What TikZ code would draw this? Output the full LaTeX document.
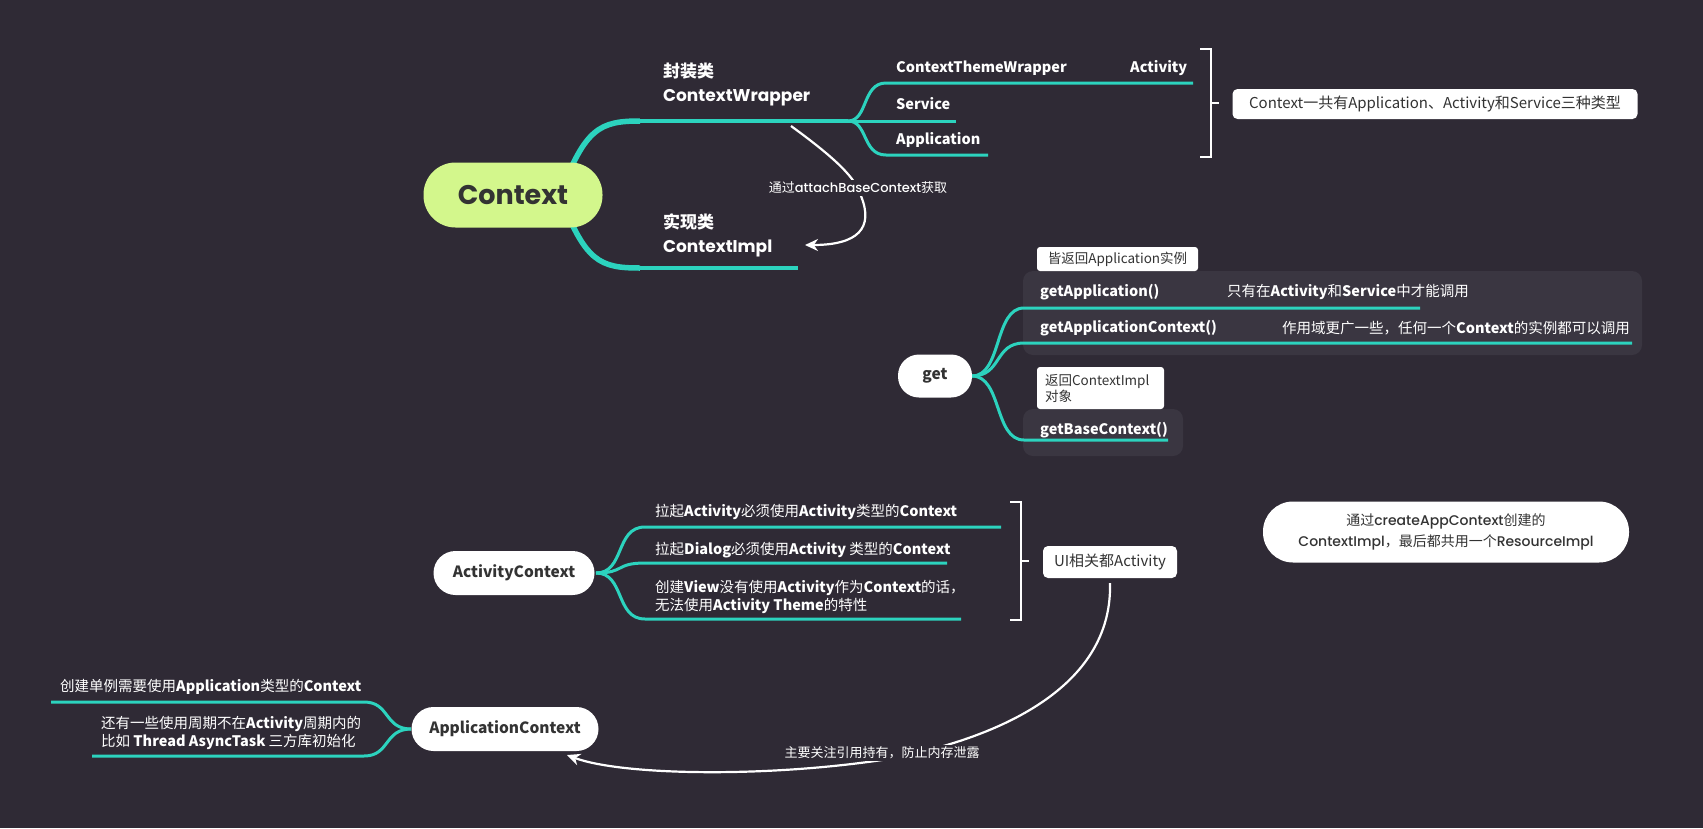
\documentclass[tikz,border=0pt]{standalone}
\usepackage{fontspec}
\setmainfont{Noto Sans CJK SC}
\newfontfamily\pop{Poppins}
\newfontfamily\popm{Poppins Medium}
\newfontfamily\cjk{Noto Sans CJK SC}
\usetikzlibrary{arrows.meta}
\definecolor{bgc}{HTML}{2F2A35}
\definecolor{teal}{HTML}{2CD3BE}
\definecolor{lgreen}{HTML}{D3F78C}
\definecolor{gbox}{HTML}{3A3641}
\definecolor{dtext}{HTML}{333333}
\newcommand\latb[1]{\textbf{#1}}
\tikzset{
 br/.style={draw=teal, line width=3pt},
 brthick/.style={draw=teal, line width=5.5pt},
 wtxt/.style={text=white, inner sep=0pt, anchor=west, align=left, font=\fontsize{14.5}{18.5}\selectfont},
 wbox/.style={fill=white, text=dtext, rounded corners=5pt, inner sep=0pt, font=\fontsize{14.5}{18}\selectfont},
 pill/.style={fill=white, text=dtext, inner sep=0pt, font=\bfseries\fontsize{15.5}{18}\selectfont},
 arr/.style={draw=white, line width=2.2pt, -{Stealth[length=13pt,width=12pt]}},
 brk/.style={draw=white, line width=1.8pt},
 lab/.style={fill=bgc, text=white, inner sep=2pt},
}
\begin{document}
\begin{tikzpicture}[x=1pt,y=-1pt]
\fill[bgc] (0,0) rectangle (1703,828);
\useasboundingbox (0,0) rectangle (1703,828);

% gray group boxes
\fill[gbox, rounded corners=10pt] (1023,271) rectangle (1642,355);
\fill[gbox, rounded corners=10pt] (1023,409) rectangle (1183,456);
% tabs
\node[wbox, rounded corners=3pt, minimum width=161pt, minimum height=24pt, font=\fontsize{13.5}{16}\selectfont] (tab1) at (1117.5,259) {皆返回Application实例};
\node[wbox, rounded corners=3pt, minimum width=127pt, minimum height=42pt, align=left, text width=111pt, font=\fontsize{13.5}{16}\selectfont] (tab2) at (1100.5,388) {返回ContextImpl\\对象};

% coordinates
\coordinate (c0) at (560,195);
\coordinate (bw) at (848,121);
\coordinate (g0) at (972,376);
\coordinate (a0) at (596,573);
\coordinate (p0) at (411,729);

% main branches
\draw[brthick] (c0) .. controls (585,128) and (600,121) .. (640,121);
\draw[br, line width=3.5pt] (640,121) -- (bw);
\draw[brthick] (c0) .. controls (585,262) and (600,268) .. (640,268);
\draw[br, line width=3.5pt] (640,268) -- (798,268);
% wrapper sub-branches
\draw[br] (bw) .. controls (868,121) and (862,83) .. (886,83) -- (1193,83);
\draw[br] (bw) -- (956,121);
\draw[br] (bw) .. controls (868,121) and (862,155) .. (886,155) -- (988,155);
% get branches
\draw[br] (g0) .. controls (1002,376) and (994,308) .. (1024,308) -- (1420,308);
\draw[br] (g0) .. controls (1002,376) and (994,343) .. (1024,343) -- (1632,343);
\draw[br] (g0) .. controls (1002,376) and (994,440) .. (1024,440) -- (1168,440);
% activity branches
\draw[br] (a0) .. controls (625,573) and (615,527) .. (645,527) -- (1001,527);
\draw[br] (a0) .. controls (625,573) and (615,563) .. (645,563) -- (947,563);
\draw[br] (a0) .. controls (625,573) and (615,619) .. (645,619) -- (961,619);
% application branches
\draw[br] (p0) .. controls (384,729) and (390,702) .. (364,702) -- (51,702);
\draw[br] (p0) .. controls (384,729) and (390,756) .. (364,756) -- (92,756);

% central node
\node[fill=lgreen, rounded corners=32pt, minimum width=179pt, minimum height=65pt, text=dtext, inner sep=0pt] (ctx) at (513,195) {\pop\bfseries\fontsize{27}{30}\selectfont Context};

% wrapper texts
\node[wtxt, font=\bfseries\fontsize{17}{24}\selectfont] (wrap) at (663,84) {封装类\\{\pop ContextWrapper}};
\node[wtxt, font=\bfseries\fontsize{17}{24}\selectfont] (impl) at (663,235) {实现类\\{\pop ContextImpl}};
\node[wtxt, font=\bfseries\fontsize{14.5}{18}\selectfont] (ctw) at (896,68) {ContextThemeWrapper};
\node[wtxt, font=\bfseries\fontsize{14.5}{18}\selectfont] (act) at (1130,68) {Activity};
\node[wtxt, font=\bfseries\fontsize{14.5}{18}\selectfont] (svc) at (896,104) {Service};
\node[wtxt, font=\bfseries\fontsize{14.5}{18}\selectfont] (app) at (896,140) {Application};

% bracket 1 + note
\draw[brk] (1200,49) -- (1211,49) -- (1211,157) -- (1200,157);
\coordinate (bk1) at (1211,103);
\draw[brk] (bk1) -- ++(8,0);
\node[wbox, minimum width=405pt, minimum height=30pt, font=\fontsize{15}{18}\selectfont] (note1) at (1435,104) {Context一共有Application、Activity和Service三种类型};

% attach arrow
\coordinate (a1s) at (791,126);
\coordinate (a1e) at (805,245);
\draw[arr] (a1s) .. controls (835,158) and (856,178) .. (861,196) .. controls (874,228) and (858,245) .. (a1e);
\node[lab, font=\fontsize{13}{15}\selectfont] (lab1) at (858,188) {通过{\popm attachBaseContext}获取};

% get
\node[pill, rounded corners=21pt, minimum width=74pt, minimum height=43pt] (get) at (935,376) {get};
\node[wtxt] (ga) at (1040,292) {\latb{getApplication()}};
\node[wtxt] (gad) at (1227,292) {只有在\latb{Activity}和\latb{Service}中才能调用};
\node[wtxt] (gac) at (1040,328) {\latb{getApplicationContext()}};
\node[wtxt] (gacd) at (1282,328) {作用域更广一些，任何一个\latb{Context}的实例都可以调用};
\node[wtxt] (gbc) at (1040,430) {\latb{getBaseContext()}};

% activity context
\node[pill, rounded corners=22pt, minimum width=161pt, minimum height=44pt] (actx) at (514,573) {ActivityContext};
\node[wtxt] (t1) at (655,512) {拉起\latb{Activity}必须使用\latb{Activity}类型的\latb{Context}};
\node[wtxt] (t2) at (655,550) {拉起\latb{Dialog}必须使用\latb{Activity} 类型的\latb{Context}};
\node[wtxt] (t3) at (655,597) {创建\latb{View}没有使用\latb{Activity}作为\latb{Context}的话，\\无法使用\latb{Activity Theme}的特性};
\draw[brk] (1010,502) -- (1021,502) -- (1021,620) -- (1010,620);
\coordinate (bk2) at (1021,561);
\draw[brk] (bk2) -- ++(8,0);
\node[wbox, minimum width=134pt, minimum height=32pt, font=\fontsize{15}{18}\selectfont] (ui) at (1110,562) {UI相关都Activity};

% note 2
\node[wbox, rounded corners=30pt, minimum width=366pt, minimum height=61pt, align=center, font=\popm\fontsize{14}{21}\selectfont] (note2) at (1446,532) {{\cjk 通过}createAppContext{\cjk 创建的}\\ContextImpl{\cjk ，最后都共用一个}ResourceImpl};

% application context
\node[pill, rounded corners=22pt, minimum width=187pt, minimum height=44pt] (apctx) at (505,729) {ApplicationContext};
\node[wtxt] (t4) at (60,687) {创建单例需要使用\latb{Application}类型的\latb{Context}};
\node[wtxt] (t5) at (101,733) {还有一些使用周期不在\latb{Activity}周期内的\\比如 \latb{Thread AsyncTask} 三方库初始化};

% ui -> application arrow
\coordinate (a2e) at (567,755);
\draw[arr] (ui.south) ++(0,5) .. controls (1113,700) and (970,745) .. (882,760) .. controls (760,778) and (620,775) .. (a2e);
\node[lab, font=\fontsize{13}{15}\selectfont] (lab2) at (882,753) {主要关注引用持有，防止内存泄露};
\end{tikzpicture}
\end{document}
